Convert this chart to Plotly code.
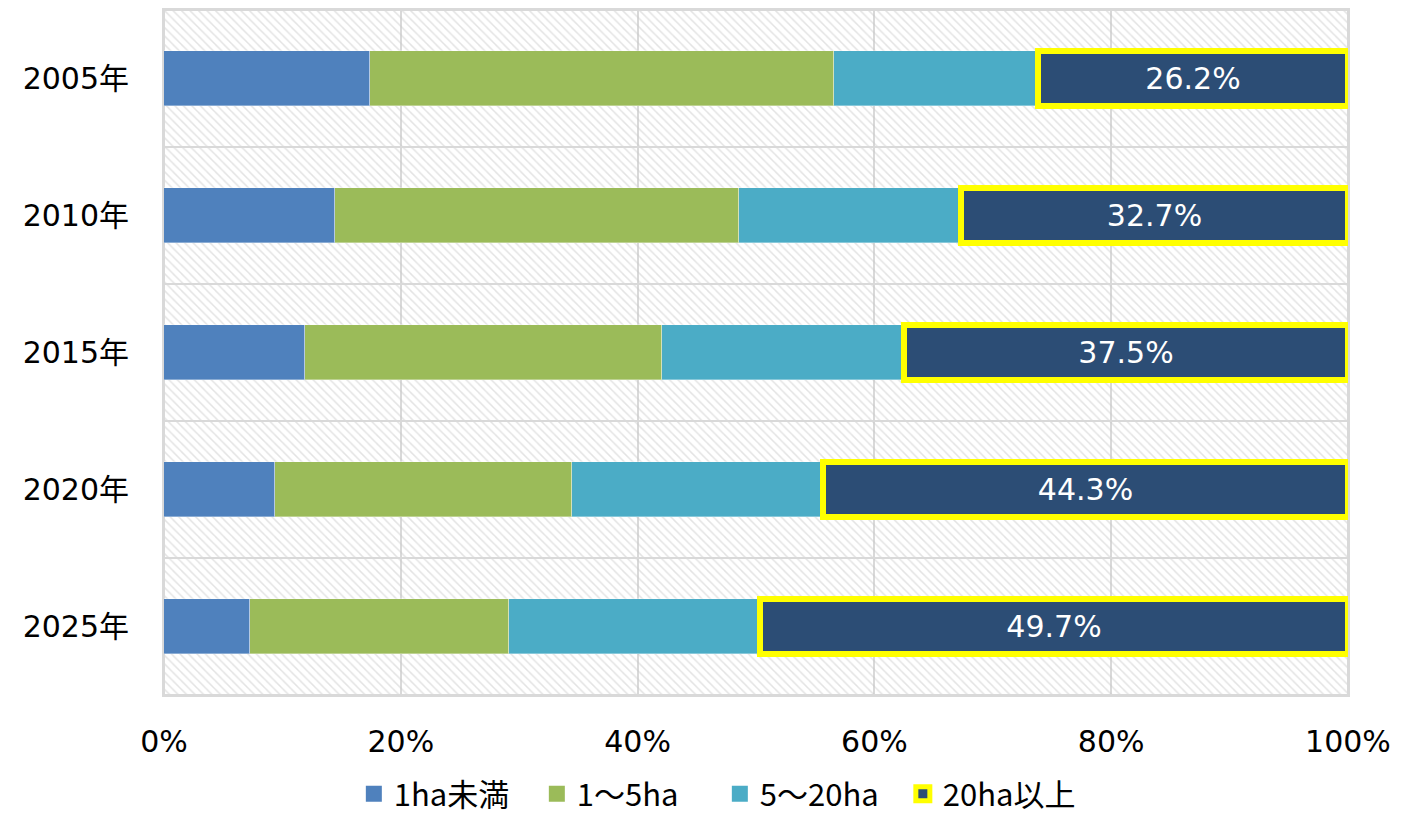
import plotly.graph_objects as go

# Farm size share by year (% of total area)
years = ["2005年", "2010年", "2015年", "2020年", "2025年"]
under_1ha = [17.4, 14.4, 11.9, 9.4, 7.3]
ha_1_5 = [39.2, 34.2, 30.2, 25.1, 21.8]
ha_5_20 = [17.2, 18.7, 20.4, 21.2, 21.2]
over_20ha = [26.2, 32.7, 37.5, 44.3, 49.7]

series_names = ["1ha未満", "1～5ha", "5～20ha", "20ha以上"]
series_colors = ["#4F81BD", "#9BBB59", "#4BACC6", "#2C4D75"]
series_values = [under_1ha, ha_1_5, ha_5_20, over_20ha]
highlight_name = "20ha以上"
highlight_color = "#FFFF00"

FONT = "DejaVu Sans, Noto Sans CJK JP, sans-serif"
LEGEND_FONT = "Noto Sans CJK JP, sans-serif"
pos = list(range(len(years)))

fig = go.Figure()

# hatched band behind each category; its outline forms the row separators
fig.add_trace(go.Bar(
    y=pos, x=[100] * len(years), orientation="h", width=1,
    marker=dict(color="rgba(0,0,0,0)",
                line=dict(color="#D9D9D9", width=2),
                pattern=dict(shape="\\", fgcolor="#C8C8C8", bgcolor="rgba(0,0,0,0)",
                             size=6, solidity=0.25)),
    showlegend=False, hoverinfo="skip", xaxis="x", yaxis="y",
))

# stacked shares; the largest size class is outlined and labelled
for name, color, vals in zip(series_names, series_colors, series_values):
    highlight = name == highlight_name
    fig.add_trace(go.Bar(
        name=name, y=pos, x=vals, orientation="h", width=0.4,
        marker=dict(color=color,
                    line=dict(color=highlight_color if highlight else "rgba(255,255,255,0.35)",
                              width=6 if highlight else 1)),
        text=[f"{v:.1f}%" for v in vals] if highlight else None,
        textposition="inside" if highlight else None,
        insidetextanchor="middle",
        textfont=dict(color="white", size=30, family=FONT),
        showlegend=False,
        xaxis="x", yaxis="y2",
    ))

# legend entries with larger square swatches
for name, color in zip(series_names, series_colors):
    highlight = name == highlight_name
    fig.add_trace(go.Scatter(
        name=name, x=[None], y=[None], mode="markers",
        marker=dict(symbol="square", color=color,
                    size=14 if highlight else 16,
                    line=dict(color=highlight_color if highlight else color,
                              width=5 if highlight else 0)),
        xaxis="x", yaxis="y2", hoverinfo="skip",
    ))

yrange = [len(years) - 0.5, -0.5]
fig.update_layout(
    width=1417, height=821,
    margin=dict(l=164, r=69, t=8, b=124),
    paper_bgcolor="white", plot_bgcolor="white",
    barmode="stack",
    font=dict(family=FONT, color="#000000", size=30),
    xaxis=dict(range=[0, 100], tickvals=[0, 20, 40, 60, 80, 100],
               ticktext=["0%", "20%", "40%", "60%", "80%", "100%"],
               showgrid=True, gridcolor="#D9D9D9", gridwidth=2,
               zeroline=False, showline=True, linecolor="#D9D9D9", linewidth=2,
               mirror=True, ticks="", ticklabelstandoff=19,
               tickfont=dict(size=30, family=FONT)),
    yaxis=dict(range=yrange, tickvals=pos, ticktext=years, showgrid=False,
               zeroline=False, showline=True, linecolor="#D9D9D9", linewidth=2,
               mirror=True, ticks="", ticklabelstandoff=27,
               tickfont=dict(size=30, family=FONT)),
    yaxis2=dict(range=yrange, overlaying="y", showgrid=False, zeroline=False,
                showticklabels=False, visible=False),
    legend=dict(orientation="h", xref="container", yref="container",
                x=0.508, xanchor="center", y=-0.01, yanchor="bottom",
                bgcolor="rgba(0,0,0,0)",
                font=dict(size=31, family=LEGEND_FONT),
                itemwidth=30, entrywidth=138, tracegroupgap=0,
                traceorder="normal"),
    bargap=0,
)

fig.write_html("out.html")
